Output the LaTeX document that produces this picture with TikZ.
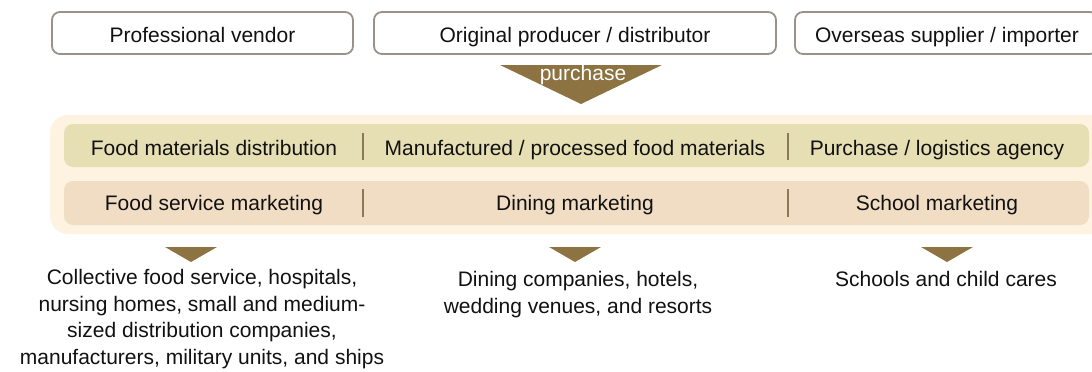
\documentclass[tikz,border=0pt]{standalone}
\usepackage{fontspec}
\setmainfont{Liberation Sans}
\definecolor{boxline}{HTML}{9A928A}
\definecolor{outerband}{HTML}{FDF3E0}
\definecolor{rowone}{HTML}{E6DFB3}
\definecolor{rowtwo}{HTML}{F0DDC4}
\definecolor{arrowfill}{HTML}{8C7341}
\definecolor{sepline}{HTML}{8A7856}
\definecolor{txt}{HTML}{111111}
\begin{document}
\begin{tikzpicture}[x=1pt,y=-1pt,
  every node/.style={font=\fontsize{21}{26.7}\selectfont, text=txt, inner sep=0pt},
  oneline/.style={text height=15pt, text depth=4.5pt},
  topbox/.style={draw=boxline, line width=1.8pt, rounded corners=8pt, fill=white},
  sep/.style={draw=sepline, line width=2.4pt},
  tri/.style={fill=arrowfill, draw=none},
  lbl/.style={align=center}]
\useasboundingbox (0,0) rectangle (1092,372);
% top boxes
\draw[topbox] (52,12) rectangle (353,54);
\node[oneline] (pv) at (202.5,37.3) {Professional vendor};
\draw[topbox] (374,12) rectangle (776,54);
\node[oneline] (op) at (575,37.3) {Original producer / distributor};
\draw[topbox] (795,12) rectangle (1098,54);
\node[oneline] (os) at (947,37.3) {Overseas supplier / importer};
% purchase arrow
\coordinate (pa1) at (500,65);
\coordinate (pa2) at (662,65);
\coordinate (pa3) at (581,104);
\fill[tri] (pa1) -- (pa2) -- (pa3) -- cycle;
\node[text=white] (purchase) at (583,75) {purchase};
% outer band
\fill[outerband, rounded corners=18pt] (50,115) rectangle (1110,234);
\fill[rowone, rounded corners=9pt] (64,124) rectangle (1089,167);
\fill[rowtwo, rounded corners=9pt] (64,181) rectangle (1089,225);
\draw[sep] (363,133) -- (363,160);
\draw[sep] (788,133) -- (788,160);
\draw[sep] (363,189) -- (363,217);
\draw[sep] (788,189) -- (788,217);
\node[oneline] (fmd) at (214,150.5) {Food materials distribution};
\node[oneline] (mpf) at (575,150.5) {Manufactured / processed food materials};
\node[oneline] (pla) at (937,150.5) {Purchase / logistics agency};
\node[oneline] (fsm) at (214,204.8) {Food service marketing};
\node[oneline] (dm) at (575,204.8) {Dining marketing};
\node[oneline] (sm) at (937,204.8) {School marketing};
% bottom arrows
\fill[tri] (165,247) -- (217,247) -- (191,262) -- cycle;
\fill[tri] (549,247) -- (601,247) -- (575,262) -- cycle;
\fill[tri] (921,247) -- (973,247) -- (947,262) -- cycle;
\node[lbl, anchor=north] (c1) at (202,269) {Collective food service, hospitals,\\nursing homes, small and medium-\\sized distribution companies,\\manufacturers, military units, and ships};
\node[lbl, anchor=north] (c2) at (578,271) {Dining companies, hotels,\\wedding venues, and resorts};
\node[lbl, anchor=north] (c3) at (946,271) {Schools and child cares};
\end{tikzpicture}
\end{document}
